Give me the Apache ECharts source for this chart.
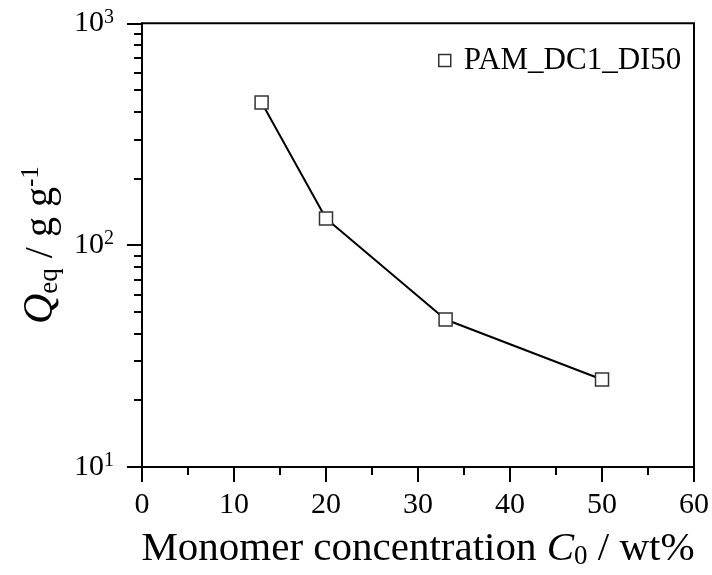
<!DOCTYPE html>
<html>
<head>
<meta charset="utf-8">
<script src="https://cdn.jsdelivr.net/npm/echarts@6/dist/echarts.min.js"></script>
<style>
html,body{margin:0;padding:0;background:#fff;}
#chart{width:712px;height:575px;}
</style>
</head>
<body>
<div id="chart"></div>
<script>
// Data
const seriesName = 'PAM_DC1_DI50';
const concentration = [13, 20, 33, 50];
const qeq = [440, 132, 46.2, 24.8];

// Tick values / labels
const xTicks = [0, 10, 20, 30, 40, 50, 60];
const yMajor = [10, 100, 1000];
const yExponents = ['1', '2', '3'];
const yMinor = [20, 30, 40, 50, 60, 70, 80, 90, 200, 300, 400, 500, 600, 700, 800, 900];

const FONT = 'Liberation Serif';
const chart = echarts.init(document.getElementById('chart'));

const option = {
  backgroundColor: '#fff',
  animation: false,
  grid: {
    left: 142, right: 17.5, top: 23.3, bottom: 106.5,
    show: true, borderColor: '#000', borderWidth: 2, backgroundColor: 'transparent'
  },
  legend: {
    show: true,
    data: [seriesName],
    left: 433, top: 40,
    icon: 'rect',
    itemWidth: 12, itemHeight: 12,
    itemStyle: { color: '#fff', borderColor: '#333', borderWidth: 1.5 },
    textStyle: { fontFamily: FONT, fontSize: 31, color: '#000', padding: [0, 0, 0, 8] }
  },
  xAxis: {
    type: 'value',
    min: xTicks[0], max: xTicks[xTicks.length - 1], interval: 10,
    name: '{n|Monomer concentration }{i|C}{sub|0}{n| / wt%}',
    nameLocation: 'middle',
    nameGap: 59,
    nameTextStyle: {
      rich: {
        n: { fontFamily: FONT, fontSize: 41, lineHeight: 44, color: '#000', verticalAlign: 'bottom' },
        i: { fontFamily: FONT, fontSize: 41, lineHeight: 44, fontStyle: 'italic', color: '#000', verticalAlign: 'bottom' },
        sub: { fontFamily: FONT, fontSize: 27, lineHeight: 12, color: '#000', verticalAlign: 'bottom' }
      }
    },
    axisLine: { show: true, onZero: false, lineStyle: { color: '#000', width: 2 } },
    axisTick: { show: true, length: 15, lineStyle: { color: '#000', width: 2 } },
    minorTick: { show: true, splitNumber: 2, length: 8, lineStyle: { color: '#000', width: 2 } },
    splitLine: { show: false },
    axisLabel: {
      fontFamily: FONT, fontSize: 30, color: '#000', margin: 23,
      formatter: function (v) { return xTicks.indexOf(v) >= 0 ? String(v) : ''; }
    }
  },
  yAxis: [{
    type: 'log', logBase: 10,
    min: yMajor[0], max: yMajor[yMajor.length - 1],
    name: '{q|Q}{sub|eq}{n| / g g}{sup|-1}',
    nameLocation: 'middle',
    nameRotate: 90,
    nameGap: 75,
    nameTextStyle: {
      rich: {
        q: { fontFamily: FONT, fontSize: 42, lineHeight: 44, fontStyle: 'italic', color: '#000' },
        n: { fontFamily: FONT, fontSize: 40, lineHeight: 44, color: '#000' },
        sub: { fontFamily: FONT, fontSize: 27, lineHeight: 10, color: '#000', verticalAlign: 'bottom' },
        sup: { fontFamily: FONT, fontSize: 25, lineHeight: 12, color: '#000', verticalAlign: 'top' }
      }
    },
    axisLine: { show: true, onZero: false, lineStyle: { color: '#000', width: 2 } },
    axisTick: { show: true, length: 15, lineStyle: { color: '#000', width: 2 } },
    splitLine: { show: false },
    axisLabel: {
      margin: 28,
      formatter: function (v) {
        const i = yMajor.indexOf(Math.round(v));
        return i >= 0 ? '{b|10}{sup|' + yExponents[i] + '}' : '';
      },
      rich: {
        b: { fontFamily: FONT, fontSize: 30, lineHeight: 32, color: '#000' },
        sup: { fontFamily: FONT, fontSize: 20, lineHeight: 12, color: '#000', verticalAlign: 'top' }
      }
    }
  }, {
    type: 'log', logBase: 10,
    min: yMajor[0], max: yMajor[yMajor.length - 1],
    position: 'left',
    axisLine: { show: false },
    axisLabel: { show: false },
    splitLine: { show: false },
    axisTick: { show: true, length: 8, customValues: yMinor, lineStyle: { color: '#000', width: 2 } }
  }],
  series: [{
    name: seriesName,
    type: 'line',
    data: concentration.map((c, i) => [c, qeq[i]]),
    symbol: 'rect',
    symbolSize: 13,
    lineStyle: { color: '#000', width: 2 },
    itemStyle: { color: '#fff', borderColor: '#333', borderWidth: 1.5 },
    z: 3
  }]
};
chart.setOption(option);
</script>
</body>
</html>
